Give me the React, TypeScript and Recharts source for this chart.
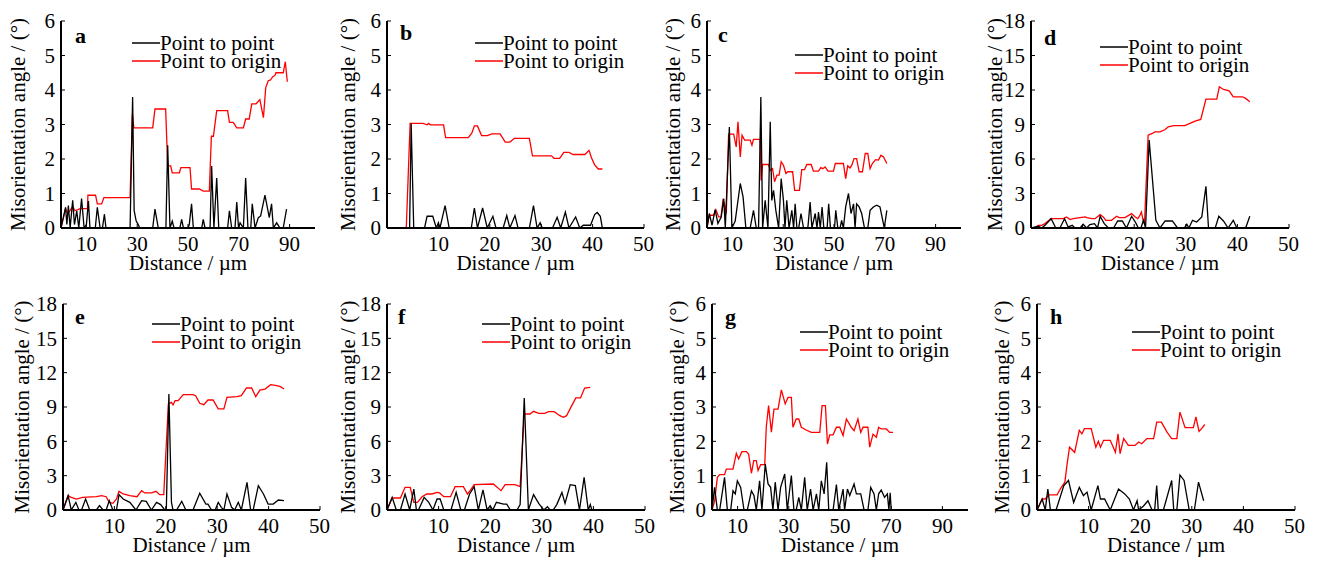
import React from "react";
import { LineChart, Line, XAxis, YAxis, Legend } from "recharts";

type Pt = [number, number];

// distance (µm), misorientation angle (°)
const aPoint: Pt[] = [[0,0],[1.8,0.6],[2.3,0.1],[2.9,0.65],[3.6,0],[4.6,0.8],[5.3,0.1],[6.2,0.5],[7.0,0],[8.1,0.85],[9.1,0],[10.0,0.1],[10.8,0.78],[11.4,0],[13.5,0],[14.3,0.6],[15.4,0],[16.3,0],[17.1,0.4],[17.7,0],[27.2,0],[28.2,3.8],[28.8,0.5],[29.6,0.2],[30.4,0.1],[31,0],[36.1,0],[37,0.55],[38.3,0],[41.3,0],[42,2.4],[42.9,0],[43.8,0.2],[44.5,0],[46.8,0],[47.5,0.25],[48.2,0],[50,0],[50.5,0.1],[51.4,0.7],[52.1,0],[55.4,0],[56,0.25],[56.7,0],[58.7,0],[59.3,1.8],[60.2,0],[61.3,1.45],[62.1,0],[65.6,0],[66.3,0.5],[67.2,0],[68.5,0],[69.2,0.75],[69.9,0],[70.5,0.15],[71.8,0],[72.7,1.45],[73.6,0],[74.7,0],[75.3,0.7],[76.4,0],[77.7,0.3],[78.6,0.35],[80.3,0.95],[82.0,0.3],[82.9,0.7],[83.6,0],[84.9,0.15],[86.2,0],[87.5,0],[88.8,0.55]];
const aOrigin: Pt[] = [[0,0],[1.8,0.56],[2.6,0.42],[3.5,0.5],[4.6,0.63],[5.5,0.5],[7.5,0.56],[10.4,0.56],[10.6,0.95],[13.6,0.95],[14.3,0.7],[16,0.7],[16.9,0.88],[27.2,0.88],[28.1,3.3],[28.7,2.9],[36.1,2.9],[37,3.45],[41.2,3.45],[42,1.8],[43.2,1.8],[43.8,1.6],[46.6,1.6],[47.2,1.75],[50.8,1.75],[51.4,1.13],[54.5,1.13],[56,1.07],[58.4,1.07],[59.2,2.66],[60,2.66],[61.3,3.4],[65.6,3.4],[66.3,3.06],[67.8,3.06],[69.2,2.9],[71.8,2.9],[72.7,3.16],[74.1,3.16],[75.1,3.6],[76.8,3.6],[78.3,3.72],[79.7,3.2],[80.6,4.07],[81.6,4.27],[82.5,4.29],[83.3,4.38],[84.3,4.43],[84.6,4.5],[87.5,4.5],[88.3,4.82],[89.1,4.24]];

const bPoint: Pt[] = [[0,0],[4.4,0],[4.7,3.03],[5.2,0],[7.3,0],[7.8,0.34],[8.9,0.34],[9.6,0],[10.0,0.15],[10.3,0],[11.3,0.65],[12.1,0],[16.4,0],[17.0,0.58],[17.6,0],[18.6,0.58],[19.5,0],[20.6,0.34],[21.2,0],[22.6,0],[23.3,0.36],[23.9,0],[24.9,0.36],[25.5,0],[27.7,0],[28.5,0.65],[29.2,0],[29.8,0.15],[30.2,0],[32.2,0],[33.1,0.31],[33.8,0],[34.7,0.46],[35.4,0],[36.7,0.32],[37.5,0],[38.2,0.08],[39.6,0.08],[40.4,0.39],[40.9,0.45],[41.5,0.34],[41.9,0]];
const bOrigin: Pt[] = [[0,0],[3.75,0],[4.5,3.03],[7.0,3.03],[7.8,2.99],[8.1,3.03],[8.4,2.99],[11.0,2.99],[11.4,2.62],[15.8,2.62],[16.5,2.75],[17.0,2.96],[17.6,2.96],[18.4,2.68],[19.5,2.68],[20.4,2.73],[22.0,2.73],[23.0,2.49],[23.9,2.49],[24.8,2.6],[27.7,2.6],[28.3,2.09],[32.0,2.09],[32.5,2.02],[33.6,2.02],[34.4,2.19],[35.4,2.19],[36.2,2.13],[38.5,2.13],[39.3,2.25],[39.8,2.03],[40.4,1.83],[41.1,1.71],[41.9,1.71]];

const cPoint: Pt[] = [[0,0],[0.9,0.42],[2.0,0.08],[3.2,0.53],[4.3,0.13],[5.6,0.32],[6.6,0.85],[7.2,0],[8.8,2.93],[9.8,0],[11.1,0.2],[13.1,1.29],[14.2,0.9],[15.3,0],[17.0,0],[18.3,0.51],[19.4,0],[20.3,0],[21.2,3.8],[21.9,0],[22.9,0.8],[24.0,0],[24.9,3.08],[25.5,0.8],[26.2,1.09],[27.1,0.51],[28.2,0],[29.2,1.43],[30.1,0.8],[30.7,0],[31.4,0.8],[32.3,0],[33.4,0.51],[34.1,0],[34.7,0.7],[35.4,0],[36.1,0],[37.0,0.42],[38.0,0],[39.7,0],[40.6,0.75],[41.3,0],[42.6,0.42],[43.3,0],[43.9,0.46],[44.6,0],[45.3,0.61],[46.0,0],[47.3,0],[47.9,0.7],[48.6,0],[50.2,0],[50.7,0.51],[51.5,0],[52.4,0],[53.0,0.22],[53.7,0],[54.6,0.61],[55.7,1.0],[56.7,0.42],[57.7,0.7],[58.3,0],[58.9,0.7],[59.9,0.61],[60.9,0.42],[62.0,0],[63.3,0],[64.2,0.51],[65.5,0.61],[66.8,0.66],[68.1,0.61],[69.8,0],[70.8,0.51]];
const cOrigin: Pt[] = [[0,0],[0.9,0.37],[2.6,0.37],[3.5,0.53],[4.6,0.32],[5.5,0.32],[6.3,0.8],[6.9,0.7],[7.6,0.42],[8.5,2.72],[10.5,2.72],[11.5,2.35],[12.2,3.08],[13.1,2.06],[13.8,2.69],[14.8,2.55],[17.0,2.55],[17.7,2.4],[18.3,2.57],[20.9,2.57],[21.3,1.38],[21.9,1.84],[24.2,1.84],[24.9,1.67],[25.8,1.72],[26.6,1.34],[27.5,1.53],[28.4,1.53],[29.2,1.92],[30.1,1.82],[31.1,1.58],[31.8,1.63],[33.7,1.63],[34.5,1.09],[36.4,1.09],[37.3,1.69],[38.4,1.69],[39.3,1.84],[41.0,1.84],[41.9,1.65],[43.9,1.65],[44.8,1.75],[45.6,1.72],[46.5,1.77],[47.6,1.65],[49.8,1.65],[50.5,1.87],[53.7,1.87],[54.6,1.43],[55.4,1.8],[56.3,1.74],[57.0,1.82],[57.9,2.01],[58.9,2.01],[59.9,1.63],[61.2,1.63],[62.3,2.16],[63.3,2.16],[64.2,1.72],[65.1,1.87],[66.4,1.98],[67.5,1.97],[68.5,2.11],[69.5,2.06],[70.8,1.87]];

const dPoint: Pt[] = [[0,0],[1.4,0.15],[2.1,0],[2.7,0.23],[3.9,0.81],[4.8,0],[5.6,0],[6.5,0.81],[7.2,0.09],[8.0,0.23],[8.5,0],[9.5,0],[10.1,0.32],[10.8,0],[11.4,0.29],[12.3,0.38],[12.9,0],[13.4,1.02],[14.2,0.38],[15.0,0],[16.0,0],[16.8,0.61],[17.7,0.61],[18.5,0],[19.5,1.02],[20.3,0.44],[20.8,0],[21.3,0],[21.8,0.67],[22.2,0],[22.9,7.64],[24.2,0.67],[25.0,0],[26.0,0.61],[27.4,0.61],[28.4,0],[29.7,0],[30.2,0.32],[30.6,0],[31.3,0.67],[32.1,0.52],[33.1,0.96],[33.9,3.63],[34.4,0],[35.7,0],[36.4,1.02],[37.3,0.61],[38.2,0],[39.2,0.67],[39.9,0],[41.6,0],[42.4,1.02]];
const dOrigin: Pt[] = [[0,0],[0.8,0],[1.4,0.23],[2.1,0.23],[2.7,0.38],[3.9,0.81],[6.3,0.81],[6.9,0.96],[7.6,0.73],[8.2,0.81],[9.5,0.9],[10.5,0.96],[10.8,0.9],[11.8,0.81],[12.4,0.81],[13.4,1.16],[14.0,0.96],[14.5,0.67],[15.6,0.67],[16.6,1.02],[17.1,0.9],[18.2,0.9],[19.5,1.25],[20.2,0.96],[20.7,0.81],[21.1,1.1],[21.4,1.39],[21.8,0.52],[22.0,0.38],[22.7,8.07],[23.4,8.2],[24.0,8.36],[25.0,8.36],[26.0,8.56],[26.6,8.8],[27.6,8.9],[29.8,8.9],[30.8,9.09],[31.8,9.29],[32.9,9.44],[33.9,11.2],[36.0,11.2],[36.5,12.28],[37.3,12.05],[38.4,11.93],[39.2,11.41],[41.0,11.41],[41.6,11.27],[42.4,10.98]];

const ePoint: Pt[] = [[0,0],[1.0,1.25],[1.6,0],[2.5,0.67],[3.1,0],[3.6,0],[4.4,0.96],[5.2,0],[6.5,0],[7.1,0.38],[7.8,0],[8.4,0],[9.0,0.82],[9.7,0],[10.4,0],[10.9,1.34],[11.7,0.96],[13.0,0.67],[14.2,0],[15.3,0.82],[16.2,0.76],[17.2,0],[18.2,0.67],[19.0,0.47],[19.8,0],[20.1,0],[20.6,10.14],[21.1,0.67],[21.4,0],[22.1,0],[23.1,0.76],[23.9,0],[25.3,0],[26.6,1.46],[27.8,0.52],[28.2,0.52],[28.9,0],[29.6,0],[30.2,0.67],[30.8,0.23],[31.3,0],[31.9,1.4],[32.8,0.23],[33.4,0],[34.1,0.67],[34.7,0],[35.8,2.42],[36.5,0],[37.0,0],[38.0,2.13],[39.0,1.4],[39.9,0.52],[40.9,0.52],[41.9,0.87],[43.0,0.82]];
const eOrigin: Pt[] = [[0,0],[1.0,1.25],[1.6,1.1],[2.6,0.96],[3.8,1.1],[6.5,1.16],[7.5,1.25],[8.4,1.16],[9.0,0.67],[9.7,0.58],[10.4,0.96],[10.9,1.63],[11.7,1.4],[13.0,1.25],[14.4,1.16],[15.3,1.69],[15.9,1.49],[17.2,1.49],[18.1,1.63],[18.8,1.34],[19.6,1.34],[20.5,9.26],[21.1,9.4],[21.4,9.18],[21.8,9.55],[22.4,9.55],[23.4,10.08],[25.3,10.08],[25.8,9.99],[26.6,9.32],[27.4,9.2],[28.2,9.61],[29.2,9.61],[30.2,8.83],[31.3,8.83],[31.9,9.85],[33.8,9.9],[34.7,9.99],[35.7,10.66],[36.7,10.66],[37.5,9.9],[38.3,10.48],[39.3,10.57],[40.4,10.95],[41.6,10.86],[42.3,10.78],[43.0,10.57]];

const fPoint: Pt[] = [[0,0],[1.0,1.1],[1.8,0],[2.6,0],[3.5,1.4],[4.4,0],[5.2,1.83],[5.7,0],[6.1,0],[7.2,1.1],[8.1,0.67],[8.9,0],[9.7,0.96],[10.3,0.96],[11.0,0],[12.4,0],[13.4,1.54],[14.3,0],[15.0,0],[16.0,1.4],[16.9,2.04],[17.7,0],[18.6,1.75],[19.4,0],[20.0,0.38],[20.5,0],[21.2,0.67],[22.6,0.52],[23.2,0.52],[23.9,0],[25.2,0],[25.8,0.47],[26.6,9.79],[27.4,0],[28.4,1.34],[29.4,0.58],[30.0,0.23],[30.4,0],[31.1,0.29],[31.6,0],[32.2,0],[32.9,0.47],[33.9,1.54],[34.5,0.58],[35.5,2.21],[36.5,2.13],[37.3,0],[38.2,2.85],[39.0,0],[39.4,0.47],[39.7,0]];
const fOrigin: Pt[] = [[0,0],[1.0,1.05],[2.6,1.05],[3.5,1.98],[4.5,1.98],[5.2,0.67],[5.9,0.67],[6.8,1.16],[7.7,1.4],[8.7,1.4],[9.7,1.54],[10.2,1.49],[11.0,1.16],[12.3,1.16],[13.2,2.04],[14.8,2.04],[15.6,1.4],[16.1,1.69],[16.9,2.21],[20.6,2.27],[22.1,1.69],[22.9,2.21],[24.8,2.21],[25.8,2.04],[26.6,8.39],[27.7,8.39],[28.4,8.62],[29.4,8.45],[30.6,8.45],[31.3,8.59],[32.4,8.59],[33.5,8.24],[34.2,8.1],[34.8,8.24],[35.8,9.12],[36.6,9.79],[37.5,9.79],[38.3,10.66],[39.4,10.72]];

const gPoint: Pt[] = [[0,0],[1.0,0.66],[2.1,0],[3.0,0],[4.9,0.95],[6.0,0],[7.3,0],[8.2,0.56],[9.1,0.47],[9.9,0.85],[11.2,0.66],[12.5,0],[13.8,0],[15.4,0.56],[16.4,0.42],[17.3,0],[18.6,0.85],[19.5,0],[20.8,1.34],[21.9,0.76],[22.9,0.66],[23.8,0],[24.7,0.81],[25.8,0],[26.8,0.66],[28.4,1.05],[29.4,0],[31.0,1.0],[32.0,0],[32.9,0],[33.9,0.37],[34.9,0],[36.2,0.95],[37.2,0],[38.5,0.61],[39.5,0],[40.8,0.47],[41.7,0],[42.7,0.85],[43.8,0.47],[44.8,1.39],[45.6,0],[47.3,0],[48.6,0.74],[49.5,0],[51.2,0.61],[51.8,0],[52.9,0.61],[53.8,0.42],[55.5,0.76],[56.4,0.47],[58.1,0.47],[59.4,0],[60.9,0],[62.0,0.66],[63.3,0.47],[64.2,0],[65.1,0.47],[66.1,0.58],[67.4,0.37],[68.5,0.47],[69.1,0],[69.6,0.5],[70.0,0]];
const gOrigin: Pt[] = [[0,0],[1.0,0.25],[2.1,0.95],[3.0,1.03],[4.9,1.03],[5.6,1.19],[8.2,1.19],[9.5,1.65],[10.4,1.49],[11.7,1.7],[13.4,1.7],[14.3,1.63],[15.4,1.07],[16.3,1.44],[17.3,1.44],[18.0,1.15],[19.0,1.32],[20.6,1.32],[21.2,2.41],[22.1,3.04],[23.2,2.27],[24.2,2.94],[25.8,2.94],[27.1,3.5],[28.6,3.09],[29.7,3.28],[31.0,3.28],[31.6,2.41],[32.9,2.65],[33.9,2.65],[34.9,2.41],[36.8,2.33],[38.8,2.26],[42.1,2.26],[43.0,3.04],[44.3,3.04],[45.1,1.92],[46.0,2.19],[47.3,2.19],[48.6,2.41],[49.9,2.41],[51.2,2.17],[52.5,2.65],[54.4,2.41],[55.5,2.31],[57.0,2.65],[58.1,2.26],[59.0,2.41],[60.9,2.41],[61.6,1.83],[62.9,2.21],[64.2,2.12],[65.1,2.41],[66.1,2.36],[68.1,2.36],[69.4,2.26],[70.7,2.26]];

const hPoint: Pt[] = [[0,0],[1.0,0.32],[1.6,0],[2.1,0.61],[2.6,0],[3.7,0],[5.2,0.71],[6.1,0.86],[7.1,0.22],[8.2,0.66],[9.0,0.42],[9.7,0.52],[10.5,0],[11.8,0.71],[12.3,0.32],[13.1,0.32],[14.2,0],[15.8,0.61],[17.0,0.47],[17.9,0.32],[18.7,0],[19.4,0.27],[19.7,0],[20.6,0.11],[21.5,0.27],[22.3,0],[22.8,0],[23.2,0.71],[23.5,0],[24.5,0],[26.1,0.86],[26.5,0],[27.1,0],[27.7,1.02],[28.5,0.86],[29.5,0],[30.5,0],[31.3,0.81],[32.3,0.27]];
const hOrigin: Pt[] = [[0,0],[1.0,0.32],[1.6,0.32],[2.3,0.44],[3.9,0.44],[4.5,0.61],[5.4,0.81],[5.8,1.3],[6.3,1.83],[7.3,1.68],[8.2,2.32],[8.7,2.22],[9.2,2.37],[10.5,2.37],[11.4,1.83],[11.9,2.0],[12.3,1.83],[12.9,2.03],[14.2,2.03],[15.2,1.68],[15.7,2.22],[16.1,1.64],[16.8,2.08],[17.7,1.88],[19.0,1.88],[19.7,1.98],[20.3,1.93],[21.3,2.08],[22.6,2.08],[23.2,2.56],[24.1,2.56],[25.2,2.27],[26.1,2.08],[27.1,2.08],[27.7,2.85],[28.7,2.4],[30.3,2.4],[30.8,2.71],[31.4,2.29],[31.9,2.37],[32.5,2.49]];

const yTicks6 = [0, 1, 2, 3, 4, 5, 6];
const yTicks18 = [0, 3, 6, 9, 12, 15, 18];
const xTicks100 = [10, 30, 50, 70, 90];
const xTicks50 = [10, 20, 30, 40, 50];
const seriesNames = ["Point to point", "Point to origin"];

const FONT = '"Liberation Serif", "Times New Roman", serif';

const panels = [
  { id: "a", point: aPoint, origin: aOrigin, xMax: 100, xTicks: xTicks100, yMax: 6, yTicks: yTicks6, box: [61, 21, 254, 207], legend: [132, 43], letter: [75, 43], yGap: 43 },
  { id: "b", point: bPoint, origin: bOrigin, xMax: 50, xTicks: xTicks50, yMax: 6, yTicks: yTicks6, box: [387, 21, 257, 207], legend: [475, 43], letter: [400, 40], yGap: 39 },
  { id: "c", point: cPoint, origin: cOrigin, xMax: 100, xTicks: xTicks100, yMax: 6, yTicks: yTicks6, box: [707, 21, 254, 207], legend: [795, 55], letter: [718, 42], yGap: 34 },
  { id: "d", point: dPoint, origin: dOrigin, xMax: 50, xTicks: xTicks50, yMax: 18, yTicks: yTicks18, box: [1031, 21, 258, 207], legend: [1100, 47], letter: [1044, 45], yGap: 36 },
  { id: "e", point: ePoint, origin: eOrigin, xMax: 50, xTicks: xTicks50, yMax: 18, yTicks: yTicks18, box: [63, 304, 257, 206], legend: [152, 324], letter: [75, 324], yGap: 41 },
  { id: "f", point: fPoint, origin: fOrigin, xMax: 50, xTicks: xTicks50, yMax: 18, yTicks: yTicks18, box: [387, 304, 258, 206], legend: [482, 324], letter: [398, 324], yGap: 39 },
  { id: "g", point: gPoint, origin: gOrigin, xMax: 100, xTicks: xTicks100, yMax: 6, yTicks: yTicks6, box: [712, 304, 256, 206], legend: [800, 332], letter: [725, 324], yGap: 35 },
  { id: "h", point: hPoint, origin: hOrigin, xMax: 50, xTicks: xTicks50, yMax: 6, yTicks: yTicks6, box: [1037, 304, 258, 206], legend: [1132, 332], letter: [1050, 324], yGap: 35 },
];

const tickStyle = { fontFamily: FONT, fontSize: 21, fill: "#000" };
const labelStyle = { fontFamily: FONT, fontSize: 21, fill: "#000" };
const frame = { stroke: "#000", strokeWidth: 2 };

const toRows = (pts: Pt[]) => pts.map(([x, y]) => ({ x, y }));

// keep the legend in series order (Recharts sorts it by name otherwise)
const renderLegend = (props: any) => {
  const items = [...(props.payload || [])].sort(
    (a: any, b: any) => seriesNames.indexOf(a.value) - seriesNames.indexOf(b.value)
  );
  return (
    <div style={{ fontFamily: FONT, fontSize: 21, color: "#000", lineHeight: "18px" }}>
      {items.map((e: any) => (
        <div key={e.value} style={{ display: "flex", alignItems: "center", height: 18, whiteSpace: "nowrap" }}>
          <svg width={28} height={4} style={{ display: "block" }}>
            <line x1={0} y1={2} x2={28} y2={2} stroke={e.color} strokeWidth={1.5} />
          </svg>
          <span>{e.value}</span>
        </div>
      ))}
    </div>
  );
};

function Panel({ p }: { p: (typeof panels)[number] }) {
  const [bx, by, bw, bh] = p.box;
  const left = bx - 60;
  const top = by - 20;
  return (
    <>
      <div style={{ position: "absolute", left, top }}>
        <LineChart width={bw + 70} height={bh + 70} margin={{ top: 20, right: 10, bottom: 0, left: 0 }}>
          <XAxis
            dataKey="x"
            type="number"
            domain={[0, p.xMax]}
            ticks={p.xTicks}
            allowDataOverflow
            height={50}
            tickSize={-4}
            tickMargin={12}
            tick={tickStyle}
            tickLine={{ stroke: "#000" }}
            axisLine={frame}
            label={{ value: "Distance / µm", position: "insideBottom", offset: 8, style: labelStyle }}
          />
          <XAxis xAxisId="top" orientation="top" type="number" domain={[0, p.xMax]} height={0} tick={false} tickLine={false} axisLine={frame} />
          <YAxis
            type="number"
            domain={[0, p.yMax]}
            ticks={p.yTicks}
            allowDataOverflow
            width={60}
            tickSize={-4}
            tickMargin={10}
            tick={tickStyle}
            tickLine={{ stroke: "#000" }}
            axisLine={frame}
            label={{
              value: "Misorientation angle / (°)",
              angle: -90,
              position: "insideLeft",
              offset: 60 - p.yGap,
              style: { ...labelStyle, textAnchor: "middle" },
            }}
          />
          <YAxis yAxisId="right" orientation="right" type="number" domain={[0, p.yMax]} width={0} tick={false} tickLine={false} axisLine={frame} />
          <Legend
            layout="vertical"
            align="center"
            verticalAlign="middle"
            content={renderLegend}
            wrapperStyle={{ left: p.legend[0] - left, top: p.legend[1] - 9 - top, width: "auto", height: "auto" }}
          />
          <Line data={toRows(p.origin)} dataKey="y" name={seriesNames[1]} type="linear" stroke="#ff0000" strokeWidth={1.3} dot={false} isAnimationActive={false} />
          <Line data={toRows(p.point)} dataKey="y" name={seriesNames[0]} type="linear" stroke="#000" strokeWidth={1.3} dot={false} isAnimationActive={false} />
        </LineChart>
      </div>
      <div
        style={{
          position: "absolute",
          left: p.letter[0],
          top: p.letter[1] - 18,
          fontFamily: FONT,
          fontWeight: "bold",
          fontSize: 22,
          lineHeight: "22px",
          color: "#000",
        }}
      >
        {p.id}
      </div>
    </>
  );
}

export default function App() {
  return (
    <div style={{ position: "absolute", left: 0, top: 0, width: 1318, height: 561, background: "#fff", overflow: "hidden" }}>
      {panels.map((p) => (
        <Panel key={p.id} p={p} />
      ))}
    </div>
  );
}
